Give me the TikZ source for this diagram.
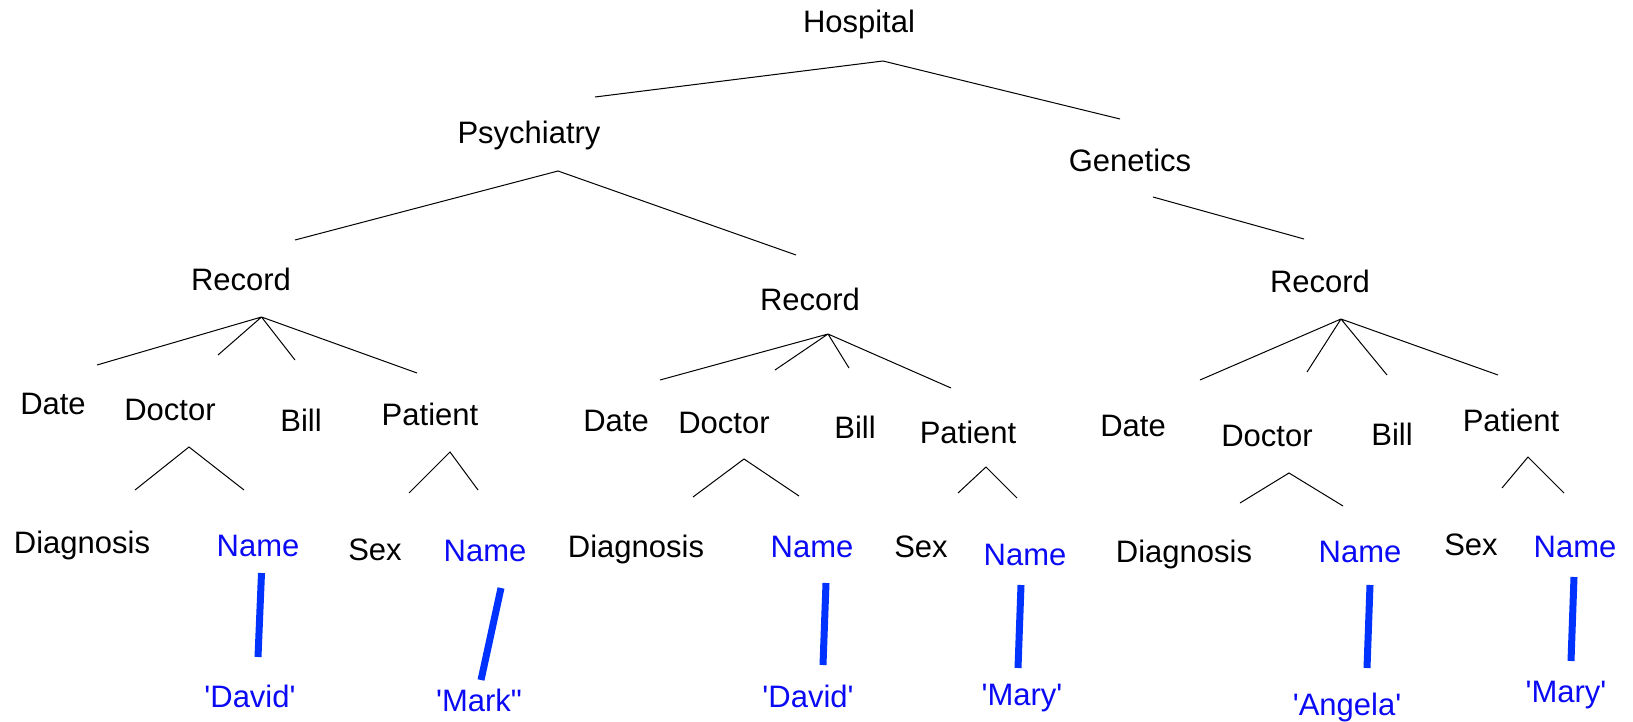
\documentclass[tikz,border=0pt]{standalone}
\usepackage{fontspec}
\setmainfont{Liberation Sans}[Ligatures=TeXOff]
\definecolor{bluetext}{RGB}{10,10,245}
\definecolor{blueline}{RGB}{0,51,255}
\begin{document}
\begin{tikzpicture}[x=1pt,y=-1pt,
  lbl/.style={anchor=base,inner sep=0pt,font=\fontsize{31}{36}\selectfont},
  val/.style={lbl,text=bluetext},
  edge/.style={draw=black,line width=1pt},
  link/.style={draw=blueline,line width=7pt,line cap=butt}]
\useasboundingbox (0,0) rectangle (1633,722);
% labels
\node[lbl] (hosp) at (859,33) {Hospital};
\node[lbl] (psy) at (529,144) {Psychiatry};
\node[lbl] (gen) at (1130,172) {Genetics};
\node[lbl] (rec1) at (241,290) {Record};
\node[lbl] (rec2) at (810,310) {Record};
\node[lbl] (rec3) at (1320,292) {Record};
\node[lbl] (date1) at (53,414) {Date};
\node[lbl] (doc1) at (170,420) {Doctor};
\node[lbl] (bill1) at (301,431) {Bill};
\node[lbl] (pat1) at (430,425) {Patient};
\node[lbl] (date2) at (616,431) {Date};
\node[lbl] (doc2) at (724,433) {Doctor};
\node[lbl] (bill2) at (855,438) {Bill};
\node[lbl] (pat2) at (968,443) {Patient};
\node[lbl] (date3) at (1133,436) {Date};
\node[lbl] (doc3) at (1267,446) {Doctor};
\node[lbl] (bill3) at (1392,445) {Bill};
\node[lbl] (pat3) at (1511,431) {Patient};
\node[lbl] (diag1) at (82,553) {Diagnosis};
\node[val] (name1) at (258,556) {Name};
\node[lbl] (sex1) at (375,560) {Sex};
\node[val] (name2) at (485,561) {Name};
\node[lbl] (diag2) at (636,557) {Diagnosis};
\node[val] (name3) at (812,557) {Name};
\node[lbl] (sex2) at (921,557) {Sex};
\node[val] (name4) at (1025,565) {Name};
\node[lbl] (diag3) at (1184,562) {Diagnosis};
\node[val] (name5) at (1360,562) {Name};
\node[lbl] (sex3) at (1471,555) {Sex};
\node[val] (name6) at (1575,557) {Name};
\node[val] (david1) at (250,707) {'David'};
\node[val] (mark) at (479,711) {'Mark"};
\node[val] (david2) at (808,707) {'David'};
\node[val] (mary1) at (1022,705) {'Mary'};
\node[val] (angela) at (1347,715) {'Angela'};
\node[val] (mary2) at (1566,702) {'Mary'};
% tree branch points
\coordinate (hA) at (883,61);
\coordinate (hL) at (595,97);
\coordinate (hR) at (1120,119);
\coordinate (pA) at (558,171);
\coordinate (pL) at (295,240);
\coordinate (pR) at (796,255);
\coordinate (gT) at (1153,197);
\coordinate (gB) at (1304,239);
\coordinate (r1A) at (261.5,317);
\coordinate (r1a) at (97,365);
\coordinate (r1b) at (218,355);
\coordinate (r1c) at (295,360);
\coordinate (r1d) at (417,373);
\coordinate (r2A) at (828,334);
\coordinate (r2a) at (660,380);
\coordinate (r2b) at (775,370);
\coordinate (r2c) at (849,368);
\coordinate (r2d) at (951,388);
\coordinate (r3A) at (1341,319);
\coordinate (r3a) at (1200,380);
\coordinate (r3b) at (1307,372);
\coordinate (r3c) at (1387,375);
\coordinate (r3d) at (1498,375);
\coordinate (d1A) at (189,447);
\coordinate (d1L) at (135,490);
\coordinate (d1R) at (244,490);
\coordinate (p1A) at (450,452);
\coordinate (p1L) at (409,493);
\coordinate (p1R) at (478,490);
\coordinate (d2A) at (744,459);
\coordinate (d2L) at (693,497);
\coordinate (d2R) at (799,496);
\coordinate (p2A) at (986,467);
\coordinate (p2L) at (958,493);
\coordinate (p2R) at (1017,498);
\coordinate (d3A) at (1289,473);
\coordinate (d3L) at (1240,503);
\coordinate (d3R) at (1343,506);
\coordinate (p3A) at (1528,457);
\coordinate (p3L) at (1502,488);
\coordinate (p3R) at (1564,493);
% value links
\coordinate (v1T) at (261.5,573); \coordinate (v1B) at (258,657);
\coordinate (v2T) at (501,588);   \coordinate (v2B) at (481,680);
\coordinate (v3T) at (826,583);   \coordinate (v3B) at (823,665);
\coordinate (v4T) at (1021,585);  \coordinate (v4B) at (1018,668);
\coordinate (v5T) at (1370,585);  \coordinate (v5B) at (1367,668);
\coordinate (v6T) at (1574,577);  \coordinate (v6B) at (1571,661);
% black branches
\draw[edge] (hL) -- (hA) -- (hR);
\draw[edge] (pL) -- (pA) -- (pR);
\draw[edge] (gT) -- (gB);
\draw[edge] (r1A) -- (r1a) (r1A) -- (r1b) (r1A) -- (r1c) (r1A) -- (r1d);
\draw[edge] (r2A) -- (r2a) (r2A) -- (r2b) (r2A) -- (r2c) (r2A) -- (r2d);
\draw[edge] (r3A) -- (r3a) (r3A) -- (r3b) (r3A) -- (r3c) (r3A) -- (r3d);
\draw[edge] (d1L) -- (d1A) -- (d1R);
\draw[edge] (p1L) -- (p1A) -- (p1R);
\draw[edge] (d2L) -- (d2A) -- (d2R);
\draw[edge] (p2L) -- (p2A) -- (p2R);
\draw[edge] (d3L) -- (d3A) -- (d3R);
\draw[edge] (p3L) -- (p3A) -- (p3R);
% blue links
\draw[link] (v1T) -- (v1B);
\draw[link] (v2T) -- (v2B);
\draw[link] (v3T) -- (v3B);
\draw[link] (v4T) -- (v4B);
\draw[link] (v5T) -- (v5B);
\draw[link] (v6T) -- (v6B);
\end{tikzpicture}
\end{document}
